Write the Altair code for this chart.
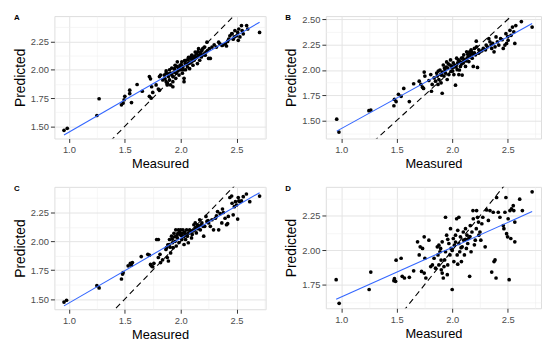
import altair as alt
import pandas as pd

# ---------------- data ----------------
a_x = [0.956, 0.985, 1.25, 1.27, 1.47, 1.485, 1.50, 1.494, 1.544, 1.544, 1.56, 1.61, 1.656, 1.72, 1.73,
       1.72, 1.735, 1.75, 1.74, 1.78, 1.80, 1.81, 1.81, 1.853, 1.86, 1.87, 1.87, 1.88, 1.89, 1.90, 1.90,
       1.91, 1.91, 1.92, 1.93, 1.93, 1.94, 1.95, 1.956, 1.96, 1.97, 1.98, 1.985, 1.994, 2.0, 2.01, 2.015,
       2.02, 2.03, 2.04, 2.044, 2.05, 2.06, 2.07, 2.07, 2.08, 2.09, 2.10, 2.10, 2.11, 2.12, 2.13, 2.13,
       2.14, 2.15, 2.16, 2.16, 2.17, 2.18, 2.185, 2.19, 2.21, 2.215, 2.22, 2.226, 2.235, 2.25, 2.265,
       2.256, 2.30, 2.32, 2.34, 2.35, 2.37, 2.38, 2.40, 2.41, 2.43, 2.44, 2.456, 2.47, 2.48, 2.485, 2.50,
       2.51, 2.515, 2.53, 2.544, 2.55, 2.56, 2.59, 2.60, 2.706, 1.88, 1.93, 2.03, 1.84, 1.82,
       1.87, 1.89, 1.92, 1.945, 1.965, 1.975, 1.99, 2.005, 2.025, 2.035, 2.055, 2.065, 2.085, 2.095,
       2.115, 2.125, 2.145, 2.155, 2.175, 2.195, 2.20, 2.24, 2.28, 2.42, 2.46, 2.52]
a_y = [1.465, 1.483, 1.596, 1.744, 1.69, 1.706, 1.765, 1.735, 1.82, 1.79, 1.71, 1.87, 1.81, 1.94, 1.92,
       1.765, 1.75, 1.80, 1.85, 1.866, 1.83, 1.82, 1.94, 1.953, 1.92, 1.895, 1.97, 1.88, 1.94, 2.0, 1.91,
       1.97, 1.866, 2.015, 1.94, 1.895, 1.98, 2.04, 1.924, 1.97, 2.07, 2.01, 1.953, 2.04, 2.0, 2.07, 1.97,
       2.026, 1.924, 2.055, 2.0, 2.084, 2.026, 2.11, 2.055, 2.01, 2.1, 2.07, 2.13, 2.04, 2.084, 2.157, 2.10,
       2.14, 2.055, 2.128, 2.186, 2.084, 2.157, 2.113, 2.17, 2.14, 2.2, 2.128, 2.157, 2.244, 2.10, 2.1,
       2.186, 2.22, 2.2, 2.244, 2.23, 2.215, 2.22, 2.23, 2.21, 2.27, 2.30, 2.317, 2.27, 2.29, 2.346, 2.30,
       2.33, 2.26, 2.29, 2.39, 2.346, 2.317, 2.39, 2.36, 2.33, 1.866, 1.85, 1.895, 1.91, 1.953,
       1.99, 1.965, 1.955, 2.01, 2.03, 1.99, 2.02, 2.045, 2.0, 2.08, 2.05, 2.09, 2.06, 2.12,
       2.1, 2.12, 2.11, 2.16, 2.14, 2.13, 2.19, 2.17, 2.2, 2.25, 2.32, 2.36]

b_x = [0.96, 0.98, 1.25, 1.267, 1.475, 1.48, 1.495, 1.516, 1.54, 1.564, 1.614, 1.653, 1.703, 1.718, 1.733,
       1.742, 1.748, 1.754, 1.79, 1.807, 1.813, 1.82, 1.837, 1.85, 1.86, 1.866, 1.872, 1.88, 1.89, 1.896,
       1.90, 1.91, 1.91, 1.92, 1.926, 1.93, 1.94, 1.95, 1.955, 1.96, 1.97, 1.98, 1.985, 1.99, 2.0, 2.01,
       2.015, 2.024, 2.03, 2.04, 2.045, 2.05, 2.06, 2.07, 2.074, 2.083, 2.09, 2.10, 2.104, 2.113, 2.12,
       2.13, 2.134, 2.14, 2.15, 2.157, 2.163, 2.17, 2.18, 2.187, 2.19, 2.20, 2.21, 2.217, 2.22, 2.228,
       2.237, 2.25, 2.267, 2.28, 2.306, 2.317, 2.33, 2.34, 2.356, 2.365, 2.377, 2.386, 2.395, 2.407, 2.42,
       2.436, 2.46, 2.475, 2.484, 2.49, 2.504, 2.52, 2.53, 2.543, 2.555, 2.564, 2.573, 2.623, 2.72,
       1.875, 1.905, 1.935, 1.945, 1.965, 1.995, 2.005, 2.035, 2.055, 2.065, 2.085, 2.095, 2.125, 2.145,
       2.165, 2.175, 2.20, 2.24, 2.30, 2.35, 2.45, 2.50]
b_y = [1.513, 1.386, 1.597, 1.604, 1.646, 1.71, 1.688, 1.76, 1.74, 1.818, 1.688, 1.864, 1.89, 1.857, 1.83,
       1.818, 1.98, 1.94, 1.896, 1.955, 1.79, 1.857, 1.922, 1.89, 1.97, 1.94, 1.857, 1.906, 2.0, 1.955,
       1.873, 1.77, 1.98, 2.05, 1.94, 2.02, 1.97, 2.08, 1.906, 2.02, 1.955, 2.05, 2.10, 1.987, 2.02, 2.07,
       1.955, 2.05, 1.85, 2.117, 2.003, 2.07, 1.955, 2.084, 2.036, 2.117, 1.95, 2.07, 2.15, 2.10, 2.036,
       2.18, 2.117, 2.156, 2.084, 2.18, 2.133, 2.2, 2.117, 2.156, 2.036, 2.214, 2.15, 2.286, 2.23, 2.026,
       2.166, 2.18, 2.19, 2.214, 2.247, 2.23, 2.31, 2.28, 2.214, 2.263, 2.18, 2.23, 2.328, 2.28, 2.247,
       2.31, 2.214, 2.247, 2.36, 2.263, 2.295, 2.393, 2.344, 2.425, 2.377, 2.263, 2.44, 2.48, 2.425,
       1.99, 1.95, 2.0, 2.03, 2.06, 2.04, 1.99, 2.03, 2.1, 2.0, 2.06, 2.12, 2.09, 2.13,
       2.16, 2.18, 2.17, 2.2, 2.2, 2.25, 2.3, 2.33]

c_x = [0.956, 0.979, 1.25, 1.27, 1.47, 1.48, 1.485, 1.53, 1.55, 1.56, 1.568, 1.647, 1.706, 1.72, 1.73,
       1.738, 1.75, 1.76, 1.80, 1.815, 1.785, 1.80, 1.82, 1.838, 1.868, 1.873, 1.88, 1.89, 1.897, 1.90,
       1.91, 1.918, 1.926, 1.932, 1.94, 1.95, 1.956, 1.96, 1.97, 1.98, 1.985, 1.994, 2.0, 2.01, 2.015,
       2.02, 2.03, 2.04, 2.044, 2.053, 2.06, 2.068, 2.074, 2.09, 2.097, 2.103, 2.118, 2.126, 2.13, 2.14,
       2.15, 2.16, 2.17, 2.176, 2.19, 2.206, 2.215, 2.226, 2.235, 2.25, 2.265, 2.28, 2.294, 2.31, 2.33,
       2.34, 2.353, 2.368, 2.374, 2.382, 2.397, 2.41, 2.42, 2.426, 2.44, 2.456, 2.47, 2.48, 2.49, 2.50,
       2.51, 2.515, 2.53, 2.544, 2.56, 2.588, 2.618, 2.706,
       1.885, 1.905, 1.925, 1.945, 1.965, 1.975, 1.99, 2.005, 2.025, 2.035, 2.065, 2.08, 2.11, 2.135,
       2.155, 2.18, 2.20, 2.245, 2.32, 2.46, 2.52]
c_y = [1.474, 1.49, 1.617, 1.597, 1.674, 1.717, 1.73, 1.788, 1.81, 1.794, 1.817, 1.868, 1.888, 1.88, 1.80,
       1.788, 1.78, 1.81, 1.86, 1.888, 2.016, 2.016, 1.816, 1.84, 1.93, 1.945, 1.86, 1.83, 1.973, 2.016,
       1.90, 2.045, 1.988, 1.945, 2.07, 2.0, 2.1, 1.96, 2.03, 2.10, 1.99, 2.06, 2.10, 2.016, 2.07, 2.10,
       1.973, 2.06, 2.016, 2.10, 2.045, 1.988, 2.073, 2.088, 2.03, 2.06, 2.144, 2.10, 2.16, 2.073, 2.144,
       2.13, 2.187, 2.10, 2.16, 2.045, 2.13, 2.216, 2.173, 2.16, 2.13, 2.187, 2.10, 2.20, 2.258, 2.10, 2.24,
       2.16, 2.28, 2.25, 2.20, 2.144, 2.153, 2.216, 2.38, 2.393, 2.23, 2.30, 2.344, 2.315, 2.193, 2.38,
       2.344, 2.35, 2.387, 2.41, 2.344, 2.392,
       1.97, 1.95, 2.02, 2.04, 2.05, 2.07, 2.08, 2.05, 2.04, 2.08, 2.07, 2.1, 2.09, 2.12,
       2.11, 2.14, 2.13, 2.18, 2.22, 2.33, 2.35]

d_x = [0.955, 0.982, 1.252, 1.267, 1.475, 1.48, 1.495, 1.49, 1.54, 1.55, 1.57, 1.614, 1.653, 1.688, 1.703,
       1.712, 1.724, 1.733, 1.748, 1.754, 1.763, 1.748, 1.79, 1.807, 1.822, 1.837, 1.85, 1.866, 1.872,
       1.88, 1.88, 1.89, 1.896, 1.902, 1.91, 1.91, 1.92, 1.926, 1.932, 1.94, 1.94, 1.95, 1.956, 1.96, 1.97,
       1.98, 1.985, 1.99, 2.0, 2.01, 2.015, 2.02, 2.03, 2.04, 2.045, 2.05, 2.06, 2.06, 2.068, 2.074, 2.083,
       2.09, 2.10, 2.104, 2.11, 2.12, 2.128, 2.134, 2.14, 2.148, 2.157, 2.163, 2.17, 2.178, 2.187, 2.19,
       2.208, 2.217, 2.22, 2.228, 2.237, 2.25, 2.258, 2.267, 2.276, 2.297, 2.31, 2.326, 2.34, 2.356, 2.37,
       2.377, 2.386, 2.395, 2.40, 2.415, 2.43, 2.46, 2.466, 2.475, 2.484, 2.49, 2.499, 2.504, 2.513, 2.52,
       2.528, 2.534, 2.55, 2.555, 2.564, 2.564, 2.608, 2.632, 2.72,
       1.90, 1.96, 2.0, 2.03, 2.08, 2.12, 2.16, 2.20, 2.24, 2.05]
d_y = [1.788, 1.617, 1.717, 1.843, 1.781, 1.795, 1.929, 1.776, 1.943, 1.812, 1.80, 1.805, 1.852, 2.062,
       1.967, 2.026, 1.848, 2.014, 2.098, 1.943, 1.80, 1.836, 2.074, 1.883, 1.895, 1.943, 1.871, 2.026,
       1.967, 2.038, 1.895, 1.99, 2.014, 1.86, 1.836, 2.062, 1.80, 1.883, 1.931, 2.24, 1.99, 2.11, 1.824,
       1.895, 2.05, 1.967, 2.157, 2.014, 1.717, 2.086, 1.919, 2.038, 2.11, 2.229, 1.967, 2.145, 2.05, 2.24,
       1.99, 2.098, 1.919, 2.026, 2.133, 2.074, 1.967, 2.157, 2.014, 2.11, 2.05, 2.086, 1.812, 2.18, 1.99,
       2.133, 2.288, 2.229, 2.074, 2.157, 2.288, 2.24, 2.205, 2.133, 2.074, 2.193, 2.24, 2.026, 2.293,
       2.217, 2.288, 1.843, 2.276, 1.919, 1.931, 1.80, 2.383, 2.276, 2.24, 2.18, 2.157, 2.276, 2.383, 2.121,
       2.098, 2.229, 1.788, 2.288, 2.086, 2.30, 2.324, 2.288, 2.205, 2.062, 2.371, 2.288, 2.424,
       1.93, 2.08, 2.0, 2.06, 2.02, 2.08, 2.10, 2.04, 2.11, 1.90]

identity_line = [0.5, 3.0]

x_major = [1.0, 1.5, 2.0, 2.5]
x_minor = [0.75, 1.25, 1.75, 2.25, 2.75]
y_major_a = [1.5, 1.75, 2.0, 2.25]
y_major_b = [1.5, 1.75, 2.0, 2.25, 2.5]
y_major_d = [1.75, 2.0, 2.25]
y_minor = [1.375, 1.625, 1.875, 2.125, 2.375]

FONT = "Liberation Sans"
GRID_MAJOR = "#E4E4E4"
GRID_MINOR = "#EFEFEF"


def axis(title, majors, minors, step, fmt, title_size, title_pad):
    test = f"abs(datum.value*{step} - round(datum.value*{step})) < 0.001"
    return alt.Axis(
        title=title,
        values=sorted(majors + minors),
        labelExpr=f"{test} ? format(datum.value, '{fmt}') : ''",
        grid=True,
        gridColor={"condition": {"test": test, "value": GRID_MAJOR}, "value": GRID_MINOR},
        gridWidth={"condition": {"test": test, "value": 1.0}, "value": 0.6},
        tickOpacity={"condition": {"test": test, "value": 1}, "value": 0},
        domain=False,
        tickSize=4,
        tickColor="#333333",
        labelPadding=2,
        labelFont=FONT,
        labelFontSize=9.5,
        labelColor="#4D4D4D",
        titleFont=FONT,
        titleFontSize=title_size,
        titleFontWeight="normal",
        titleColor="#000000",
        titlePadding=title_pad,
    )


def panel(xs, ys, label, xdom, ydom, ymajors, w, h):
    df = pd.DataFrame({"Measured": xs, "Predicted": ys})
    xenc = alt.X("Measured:Q", scale=alt.Scale(domain=xdom, nice=False, zero=False),
                 axis=axis("Measured", x_major, x_minor, 2, ".1f", 13, 4))
    yenc = alt.Y("Predicted:Q", scale=alt.Scale(domain=ydom, nice=False, zero=False),
                 axis=axis("Predicted", ymajors, [v for v in y_minor if ydom[0] < v < ydom[1]], 4, ".2f", 14, 3))
    diag = pd.DataFrame({"Measured": identity_line, "Predicted": identity_line})
    pts = alt.Chart(df).mark_circle(size=14, color="black", opacity=1).encode(x=xenc, y=yenc)
    fit = alt.Chart(df).transform_regression("Measured", "Predicted").mark_line(
        color="#3366FF", strokeWidth=1.1).encode(x=xenc, y=yenc)
    ref = alt.Chart(diag).mark_line(color="black", strokeDash=[6, 4], strokeWidth=1.1, clip=True).encode(
        x=xenc, y=yenc)
    tag = alt.Chart(pd.DataFrame({"t": [label]})).mark_text(
        align="left", baseline="top", fontWeight="bold", fontSize=8, font=FONT, color="black"
    ).encode(x=alt.value(-41), y=alt.value(-2), text="t:N")
    return alt.layer(pts, fit, ref, tag).properties(width=w, height=h)


A = panel(a_x, a_y, "A", [0.87, 2.76], [1.393, 2.474], y_major_a, 214, 124)
B = panel(b_x, b_y, "B", [0.862, 2.80], [1.322, 2.534], y_major_b, 218, 124)
C = panel(c_x, c_y, "C", [0.87, 2.76], [1.412, 2.472], y_major_a, 214, 124)
D = panel(d_x, d_y, "D", [0.862, 2.80], [1.581, 2.46], y_major_d, 218, 123)

chart = alt.vconcat(
    alt.hconcat(A, B, spacing=18),
    alt.hconcat(C, D, spacing=18),
    spacing=13,
).properties(
    padding={"left": 5, "top": 3, "right": 0, "bottom": 0}
).configure_view(stroke="#333333", strokeWidth=1).configure(background="white")

chart.save("out.html", embed_options={"renderer": "svg", "actions": False})
